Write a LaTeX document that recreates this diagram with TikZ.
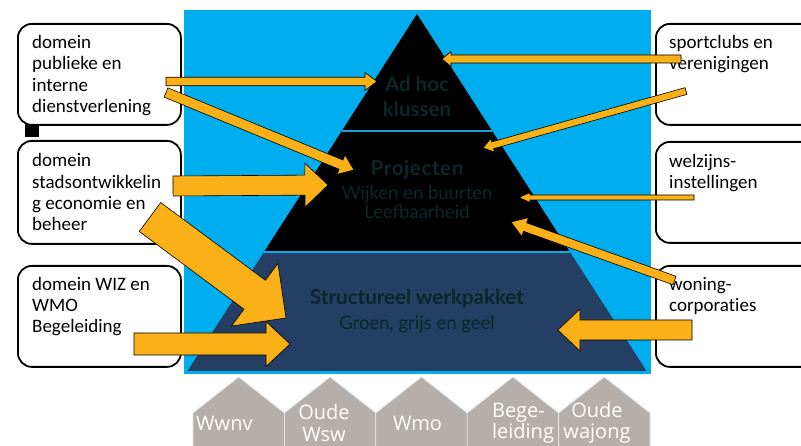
\documentclass[tikz,border=0pt]{standalone}
\usepackage{fontspec}
\setmainfont{Carlito}[Ligatures=NoCommon]
\newfontfamily\pyrfont{Lato}
\newfontfamily\pyrwide{Lato}[LetterSpace=3]
\newfontfamily\housefont{Open Sans}
\usetikzlibrary{calc}

\definecolor{skyback}{RGB}{0,174,239}
\definecolor{sepline}{RGB}{30,160,215}
\definecolor{navyband}{RGB}{36,63,99}
\definecolor{pyrtext}{RGB}{12,38,41}
\definecolor{arroworange}{RGB}{250,176,23}
\definecolor{housegray}{RGB}{180,175,171}

% block arrow: start, tip, half shaft width, half head width, head length
\newcommand\blockarrow[5]{%
  \draw[arrowbody]
    ($(#1)!#3!90:(#2)$)
    -- ($(#2)!#5!(#1)!#3!-90:(#1)$)
    -- ($(#2)!#5!(#1)!#4!-90:(#1)$)
    -- (#2)
    -- ($(#2)!#5!(#1)!#4!90:(#1)$)
    -- ($(#2)!#5!(#1)!#3!90:(#1)$)
    -- ($(#1)!#3!-90:(#2)$)
    -- cycle;}

\tikzset{
  arrowbody/.style={fill=arroworange, draw=black, line width=0.6pt, line join=miter},
  domainbox/.style={draw=black, line width=1.8pt, rounded corners=14pt, fill=white},
  boxtext/.style={anchor=north west, inner sep=0pt, align=left,
                  font=\fontsize{19}{21.3}\selectfont},
  pyrbold/.style={anchor=base, inner sep=0pt, text=pyrtext,
                  font=\pyrfont\bfseries\fontsize{20.5}{24}\selectfont},
  pyrlight/.style={anchor=base, inner sep=0pt, text=pyrtext,
                  font=\pyrfont\fontsize{18.5}{21}\selectfont},
  housetext/.style={inner sep=0pt, text=white,
                  font=\housefont\fontsize{20}{21}\selectfont},
  houseshape/.style={fill=housegray, draw=white!65!housegray, line width=0.8pt},
}

\begin{document}
\begin{tikzpicture}[x=1pt, y=-1pt]
\useasboundingbox (0,0) rectangle (801,446);
\clip (0,0) rectangle (801,446);
\fill[white] (0,0) rectangle (801,446);

% sky panel behind the pyramid
\fill[skyback] (184,10) rectangle (651,374);

% pyramid
\coordinate (apex) at (417,14);
\coordinate (baseL) at (187.5,371);
\coordinate (baseR) at (646.5,371);
\coordinate (cutAL) at ($(apex)!0.3277!(baseL)$);
\coordinate (cutAR) at ($(apex)!0.3277!(baseR)$);
\coordinate (cutBL) at ($(apex)!0.6667!(baseL)$);
\coordinate (cutBR) at ($(apex)!0.6667!(baseR)$);
\fill[black] (apex) -- (cutBL) -- (cutBR) -- cycle;
\fill[navyband] (cutBL) -- (baseL) -- (baseR) -- (cutBR) -- cycle;
\draw[sepline, line width=1.4pt] (cutAL) -- (cutAR);
\draw[skyback, line width=1.6pt] (cutBL) -- (cutBR);

% pyramid labels
\node[pyrbold] (adhoc) at (417,92) {Ad hoc};
\node[pyrbold] (klussen) at (417,117) {klussen};
\node[pyrbold, font=\pyrwide\bfseries\fontsize{20.5}{24}\selectfont] (projecten) at (417,176) {Projecten};
\node[pyrlight] (wijken) at (417,199.5) {Wijken en buurten};
\node[pyrlight] (leefbaar) at (417,219) {Leefbaarheid};
\node[pyrbold] (structureel) at (417,305) {Structureel werkpakket};
\node[pyrlight] (groen) at (417,330) {Groen, grijs en geel};

% houses along the bottom
\foreach \xl in {193,284.4,375.8,467.2,558.6}{
  \fill[houseshape] (\xl,450) -- (\xl,413) -- (\xl+45.7,377) -- (\xl+91.4,413) -- (\xl+91.4,450) -- cycle;
}
\node[housetext, anchor=west] (wwnv) at (196,423) {Wwnv};
\node[housetext, align=center] (wsw) at (324,423) {Oude\\Wsw};
\node[housetext] (wmo) at (417.5,423) {Wmo};
\node[housetext, align=left] (begeleiding) at (523,423) {Bege-\\leiding};
\node[housetext, align=center] (wajong) at (597,423) {Oude\\wajong};

% domain boxes, left
\node[domainbox, minimum width=163pt, minimum height=101pt, anchor=north west] (dienst) at (17,23) {};
\node[domainbox, minimum width=163pt, minimum height=103pt, anchor=north west] (stad) at (17,140) {};
\node[domainbox, minimum width=163pt, minimum height=101pt, anchor=north west] (wiz) at (17,265) {};
\node[boxtext] (dienstT) at (32,33.4) {\strut domein\\publieke en\\interne\\dienstverlening};
\node[boxtext] (stadT) at (32,151.8) {\strut domein\\stadsontwikkelin\\g economie en\\beheer};
\node[boxtext] (wizT) at (32,275.1) {\strut domein WIZ en\\WMO\\Begeleiding};
\fill[black] (25,124) rectangle (39,137);

% partner boxes, right
\node[domainbox, minimum width=175pt, minimum height=101pt, anchor=north west] (sport) at (655,23) {};
\node[domainbox, minimum width=175pt, minimum height=101pt, anchor=north west] (welzijn) at (655,141) {};
\node[domainbox, minimum width=175pt, minimum height=101pt, anchor=north west] (woning) at (655,265) {};
\node[boxtext] (sportT) at (669,33.1) {\strut sportclubs en\\verenigingen};
\node[boxtext] (welzijnT) at (669,152.1) {\strut welzijns-\\instellingen};
\node[boxtext] (woningT) at (669,275.1) {\strut woning-\\corporaties};

% arrow end points
\coordinate (aS) at (166,81.5);   \coordinate (aE) at (377,81.5);
\coordinate (bS) at (166,92.5);   \coordinate (bE) at (354,170);
\coordinate (cS) at (173,186);    \coordinate (cE) at (328,185);
\coordinate (dS) at (150,217);    \coordinate (dE) at (286,318);
\coordinate (eS) at (134,344);    \coordinate (eE) at (290,344);
\coordinate (fS) at (681,59);     \coordinate (fE) at (442,59);
\coordinate (gS) at (686,91);     \coordinate (gE) at (483,148);
\coordinate (hS) at (694,197.5);  \coordinate (hE) at (519,197.5);
\coordinate (iS) at (674.5,280.5);\coordinate (iE) at (511,222);
\coordinate (jS) at (692,330);    \coordinate (jE) at (558,330);

% arrows
\blockarrow{aS}{aE}{4.25pt}{9pt}{12pt}
\blockarrow{bS}{bE}{5pt}{10.5pt}{14pt}
\blockarrow{cS}{cE}{10pt}{22pt}{23pt}
\blockarrow{dS}{dE}{18pt}{39pt}{39pt}
\blockarrow{eS}{eE}{11pt}{22.5pt}{24pt}
\blockarrow{fS}{fE}{4pt}{7.5pt}{9pt}
\blockarrow{gS}{gE}{3.5pt}{7pt}{10pt}
\blockarrow{hS}{hE}{2.5pt}{5pt}{11pt}
\blockarrow{iS}{iE}{4.5pt}{10pt}{15pt}
\blockarrow{jS}{jE}{10pt}{21pt}{22pt}
\end{tikzpicture}
\end{document}
